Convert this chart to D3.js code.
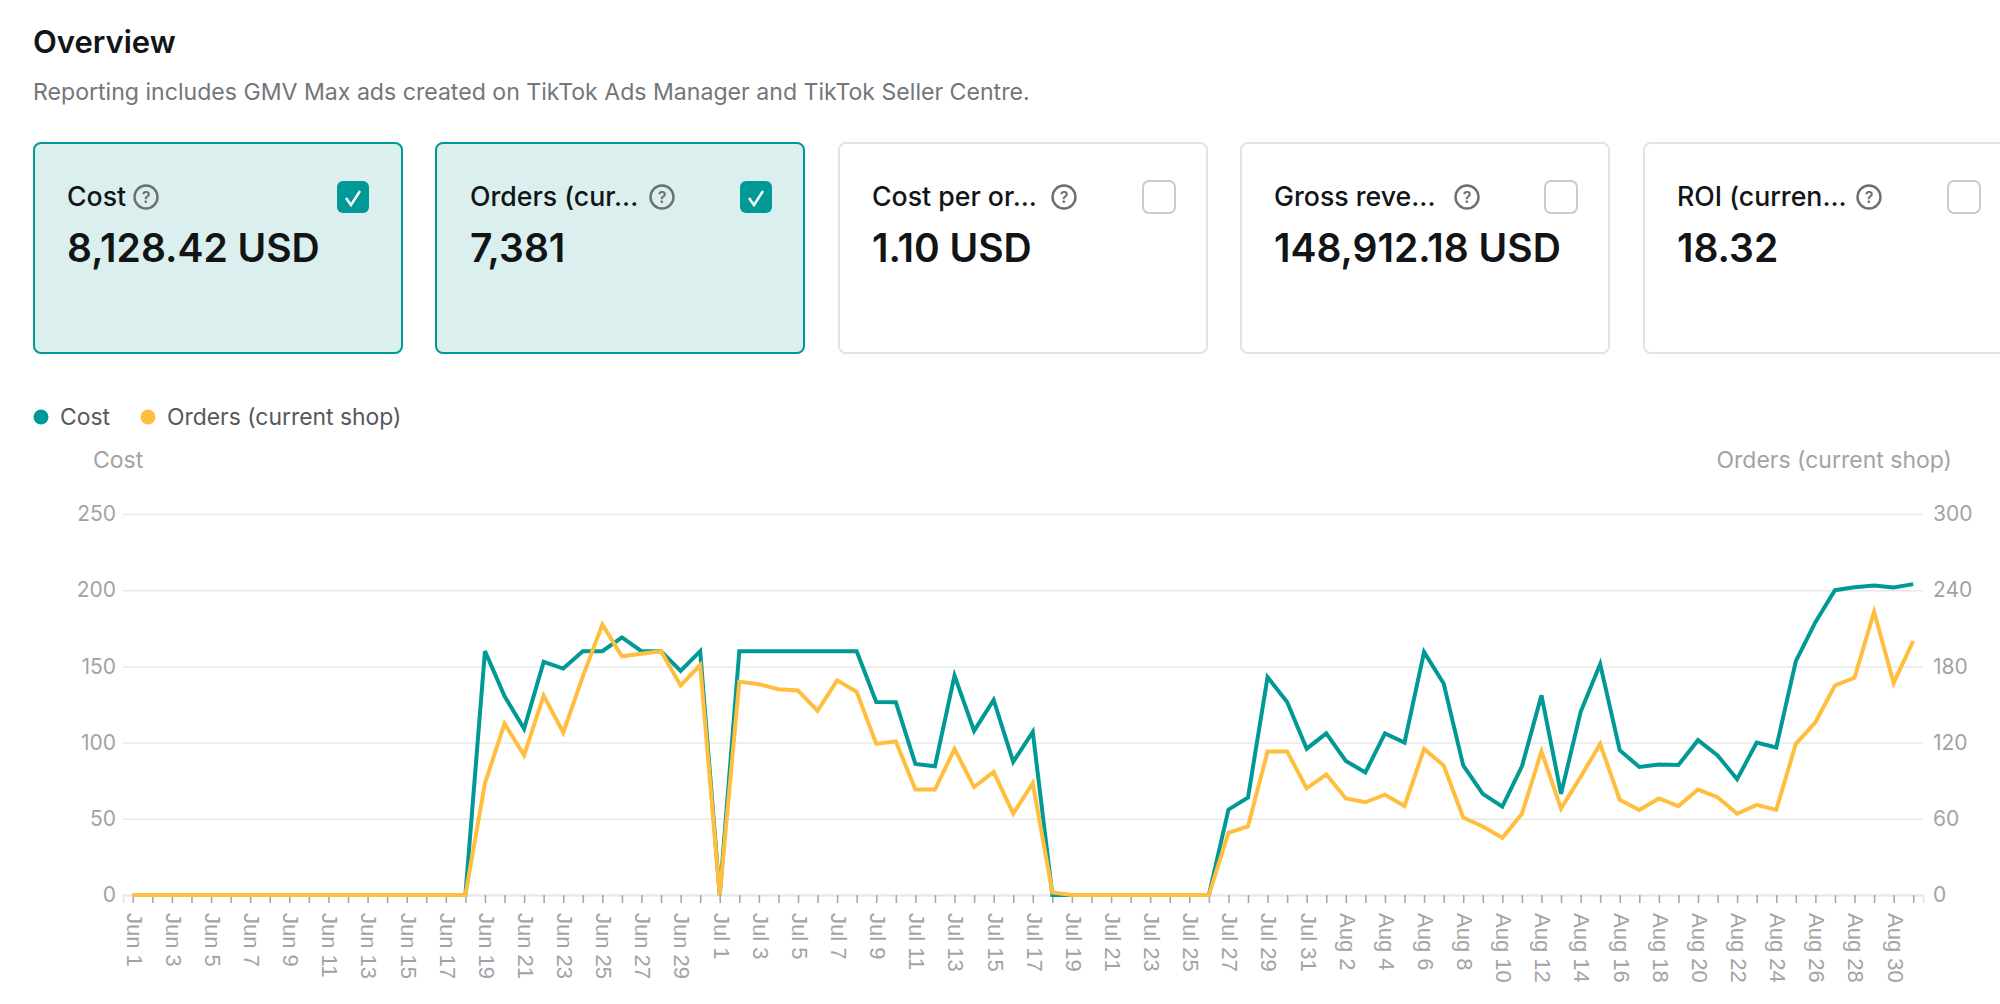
<!DOCTYPE html>
<html><head><meta charset="utf-8">
<script src="https://cdnjs.cloudflare.com/ajax/libs/d3/7.8.5/d3.min.js"></script>
<style>html,body{margin:0;background:#fff;overflow:hidden}svg{display:block}</style>
</head><body><svg id="c" width="2000" height="1004"></svg>
<script>
const titleText = "Overview";
const subtitleText = "Reporting includes GMV Max ads created on TikTok Ads Manager and TikTok Seller Centre.";
const cardLabels = ["Cost","Orders (cur...","Cost per or...","Gross reve...","ROI (curren..."];
const cardValues = ["8,128.42 USD","7,381","1.10 USD","148,912.18 USD","18.32"];
const cardChecked = [true,true,false,false,false];
const seriesNames = ["Cost","Orders (current shop)"];
const monthLengths = [["Jun",30],["Jul",31],["Aug",31]];
const days = monthLengths.flatMap(([m,n]) => d3.range(1,n+1).map(d => m+" "+d));
const cost = [0,0,0,0,0,0,0,0,0,0,0,0,0,0,0,0,0,0,
 160,130.5,109,153,148.6,160,160,169,160,160,147,160,
 0,160,160,160,160,160,160,160,126.7,126.5,86,84.5,144,107.7,128,87.4,107,0,
 0,0,0,0,0,0,0,0,56,64,143,126.7,96,106,
 88,80.4,106,100,159.4,138.8,85,66.4,58,84.4,131,66.4,120,151.5,95,84,85.6,85.3,101.6,91.6,76,100,96.8,153.4,179,200,202,203,201.8,204];
const orders = [0,0,0,0,0,0,0,0,0,0,0,0,0,0,0,0,0,0,
 88,135,110,157,128,172,213,188,190,192,165,181,
 0,168,166,162,161,145,169,160,119,121,83,83,115,85,97,64,88,2,
 0,0,0,0,0,0,0,0,49,54,113,113,84,95,
 76,73,79,70,115,102,61,54,45,64,113,68,93,119,75,67,76,70,83,77,64,71,67,119,136,165,171,223,167,200];
const leftTicks = [0,50,100,150,200,250];
const rightTicks = [0,60,120,180,240,300];

const TEAL="#009995", ORANGE="#FFBE3D", AXIS="#a3a3a6", INK="#121415";
const UI="Inter, 'Noto Sans', sans-serif", LAT="'Liberation Sans', Arial, sans-serif";
const svg=d3.select("#c");
const txt=(x,y,t,size,fill,weight,anchor,font)=>svg.append("text").attr("x",x).attr("y",y).text(t)
  .attr("font-size",size).attr("fill",fill).attr("font-weight",weight||400)
  .attr("text-anchor",anchor||"start").attr("font-family",font||UI);

txt(33,53,titleText,31,INK,600);
txt(33,100,subtitleText,23.1,"#73767a",400);

const cardX=[33,435,838,1240,1643], cardW=370, cardTop=142, cardH=212;
const textX=[67,470,872,1274,1677];
const helpX=[146,662,1064,1467,1869];
const checkX=[337,740,1143,1545,1948];
cardLabels.forEach((l,i)=>{
  const x=cardX[i], on=cardChecked[i];
  svg.append("rect").attr("x",x+1).attr("y",cardTop+1).attr("width",cardW-2).attr("height",cardH-2).attr("rx",7)
    .attr("fill",on?"#dbf0ee":"#fff").attr("stroke",on?TEAL:"#e2e3e4").attr("stroke-width",2);
  txt(textX[i],206,l,26.7,INK,500);
  txt(textX[i],262,cardValues[i],39,INK,600);
  const hx=helpX[i];
  svg.append("circle").attr("cx",hx).attr("cy",197).attr("r",11.5).attr("fill","none").attr("stroke","#6b6e72").attr("stroke-width",2.4);
  txt(hx,203,"?",16,"#6b6e72",600,"middle");
  const bx=checkX[i];
  svg.append("rect").attr("x",bx).attr("y",181).attr("width",32).attr("height",32).attr("rx",6)
    .attr("fill",on?TEAL:"#fff").attr("stroke",on?TEAL:"#c9cbcd").attr("stroke-width",on?0:2);
  if(on) svg.append("path").attr("d",`M${bx+9} ${198}l5 7l9 -14`).attr("fill","none").attr("stroke","#fff").attr("stroke-width",2.4);
});

// legend
[[41,60,TEAL,0],[148,167,ORANGE,1]].forEach(([cx,tx,col,i])=>{
  svg.append("circle").attr("cx",cx).attr("cy",417).attr("r",7.5).attr("fill",col);
  txt(tx,425,seriesNames[i],22.9,"#55585c",400);
});
txt(93,468,seriesNames[0],23,AXIS,400);
txt(1952,468,seriesNames[1],23,AXIS,400,"end");

const x=d3.scalePoint().domain(days).range([123,1923]).padding(0.5);
const yL=d3.scaleLinear().domain([0,250]).range([895,514]);
const yR=d3.scaleLinear().domain([0,300]).range([895,514]);

// grid
const grid=svg.append("g").attr("transform","translate(123,0)").call(d3.axisLeft(yL).tickValues(leftTicks).tickSize(-1800).tickFormat(""));
grid.select(".domain").remove();
grid.selectAll("line").attr("stroke","#e8e8ea").attr("stroke-width",1.5);

const leftA=svg.append("g").attr("transform","translate(123,0)").call(d3.axisLeft(yL).tickValues(leftTicks).tickSize(0).tickPadding(7));
const rightA=svg.append("g").attr("transform","translate(1923,0)").call(d3.axisRight(yR).tickValues(rightTicks).tickSize(0).tickPadding(10));
[leftA,rightA].forEach(a=>{a.select(".domain").remove();a.selectAll("text").attr("font-family",UI).attr("font-size",21).attr("fill",AXIS);});

const bottom=svg.append("g").attr("transform","translate(0,895)").call(
  d3.axisBottom(x).tickSize(8).tickFormat((d,i)=>i%2===0?d:""));
bottom.select(".domain").attr("stroke","#e8e8ea").attr("stroke-width",2);
bottom.selectAll("line").attr("stroke","#a8a8aa").attr("stroke-width",1.6);
bottom.selectAll("text").attr("font-family",LAT).attr("font-size",22).attr("fill",AXIS)
  .attr("text-anchor","start").attr("transform","rotate(90)").attr("x",18).attr("y",0).attr("dy","0.3em").attr("dx",0);

const line=(sc)=>d3.line().x((d,i)=>x(days[i])).y(d=>sc(d));
svg.append("path").datum(cost).attr("d",line(yL)).attr("fill","none").attr("stroke",TEAL).attr("stroke-width",4);
svg.append("path").datum(orders).attr("d",line(yR)).attr("fill","none").attr("stroke",ORANGE).attr("stroke-width",4);
</script></body></html>
